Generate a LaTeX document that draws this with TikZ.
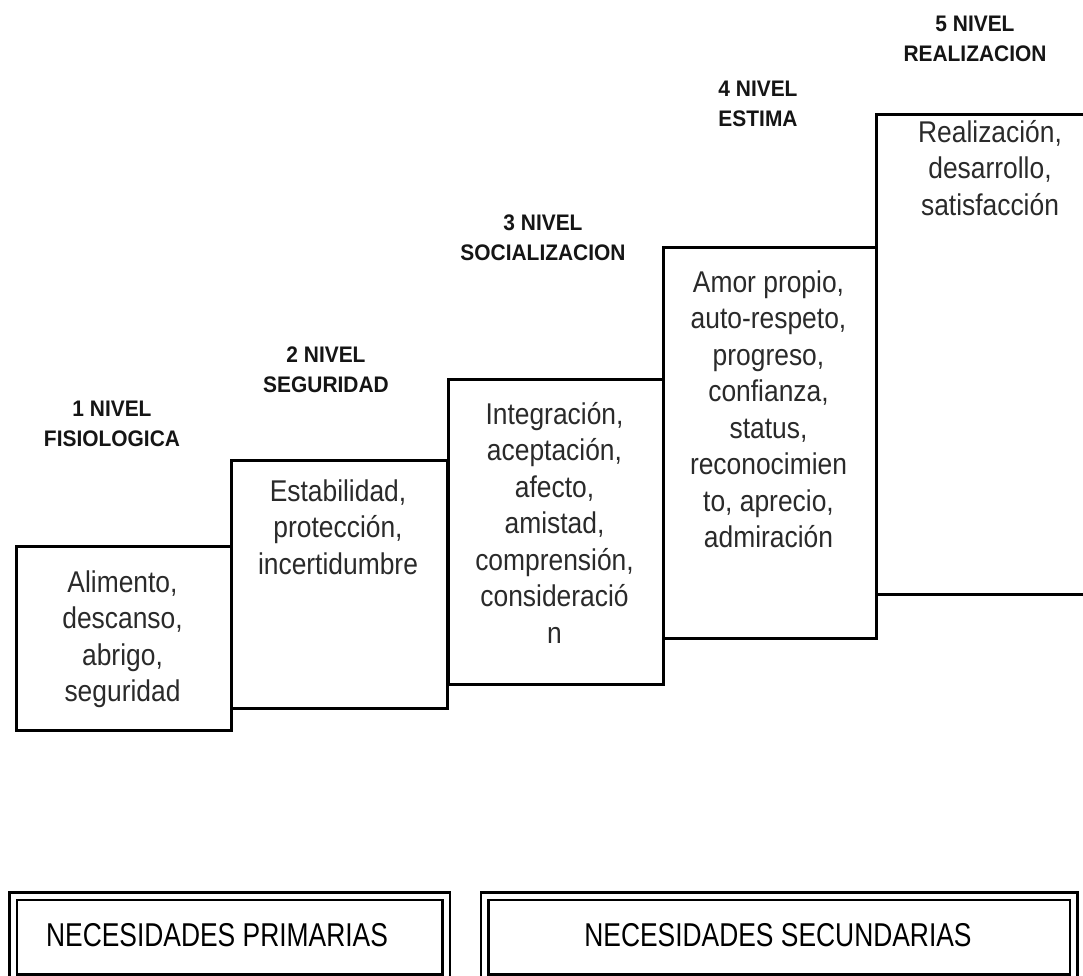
\documentclass[tikz,border=0pt]{standalone}
\usepackage{fontspec}
\setmainfont{Liberation Sans}
\newfontfamily\boxfont{Liberation Sans}[FakeStretch=0.88]
\newfontfamily\lblfont{Liberation Sans}[FakeStretch=0.93]
\newfontfamily\necfont{Liberation Sans}[FakeStretch=0.80]
\definecolor{boxtext}{HTML}{2A2A2A}
\definecolor{lbltext}{HTML}{151515}
\newcommand{\fstrut}{\rule{0pt}{30pt}}
\newcommand{\lstrut}{\rule{0pt}{20pt}}
\tikzset{
  stepbox/.style={draw=black, line width=2.6pt, rectangle, inner sep=0pt, anchor=north west, fill=none},
  steptext/.style={anchor=north, inner sep=0pt, align=center, text=boxtext,
    font=\boxfont\fontsize{30}{36.5}\selectfont},
  lvl/.style={anchor=north, inner sep=0pt, align=center, text=lbltext,
    font=\lblfont\bfseries\fontsize{22.5}{30}\selectfont},
  needbox/.style={draw=black, line width=2.5pt, double=white, double distance=5pt, rectangle, inner sep=0pt, anchor=north west},
  needtext/.style={anchor=base, inner sep=0pt, text=black, font=\necfont\fontsize{33}{38}\selectfont}
}
\begin{document}
\begin{tikzpicture}[x=1pt,y=-1pt]
\useasboundingbox (0,0) rectangle (1083,976);
\clip (0,0) rectangle (1083,976);
% steps
\node[stepbox, minimum width=215pt, minimum height=184pt] (b1) at (15,545) {};
\node[stepbox, minimum width=216pt, minimum height=248pt] (b2) at (230,459) {};
\node[stepbox, minimum width=215pt, minimum height=305pt] (b3) at (447,378) {};
\node[stepbox, minimum width=213pt, minimum height=391pt] (b4) at (662,246) {};
\node[stepbox, minimum width=240pt, minimum height=480pt] (b5) at (875,113) {};
% step texts
\node[steptext] (t1) at (122.5,562) {\fstrut Alimento,\\descanso,\\abrigo,\\seguridad};
\node[steptext] (t2) at (338,471) {\fstrut Estabilidad,\\protección,\\incertidumbre};
\node[steptext] (t3) at (554.5,394) {\fstrut Integración,\\aceptación,\\afecto,\\amistad,\\comprensión,\\consideració\\n};
\node[steptext] (t4) at (768.5,262) {\fstrut Amor propio,\\auto-respeto,\\progreso,\\confianza,\\status,\\reconocimien\\to, aprecio,\\admiración};
\node[steptext] (t5) at (990,112) {\fstrut Realización,\\desarrollo,\\satisfacción};
% level labels
\node[lvl] (l1) at (112,396) {\lstrut 1 NIVEL\\FISIOLOGICA};
\node[lvl] (l2) at (326,342) {\lstrut 2 NIVEL\\SEGURIDAD};
\node[lvl] (l3) at (543,210) {\lstrut 3 NIVEL\\SOCIALIZACION};
\node[lvl] (l4) at (758,76) {\lstrut 4 NIVEL\\ESTIMA};
\node[lvl] (l5) at (975,11) {\lstrut 5 NIVEL\\REALIZACION};
% needs boxes
\node[needbox, minimum width=433pt, minimum height=82pt] (pA) at (12,895) {};
\node[needbox, minimum width=589pt, minimum height=82pt] (pB) at (483.5,895) {};
\node[needtext] (nA) at (217,946) {NECESIDADES PRIMARIAS};
\node[needtext] (nB) at (778,946) {NECESIDADES SECUNDARIAS};
\end{tikzpicture}
\end{document}
